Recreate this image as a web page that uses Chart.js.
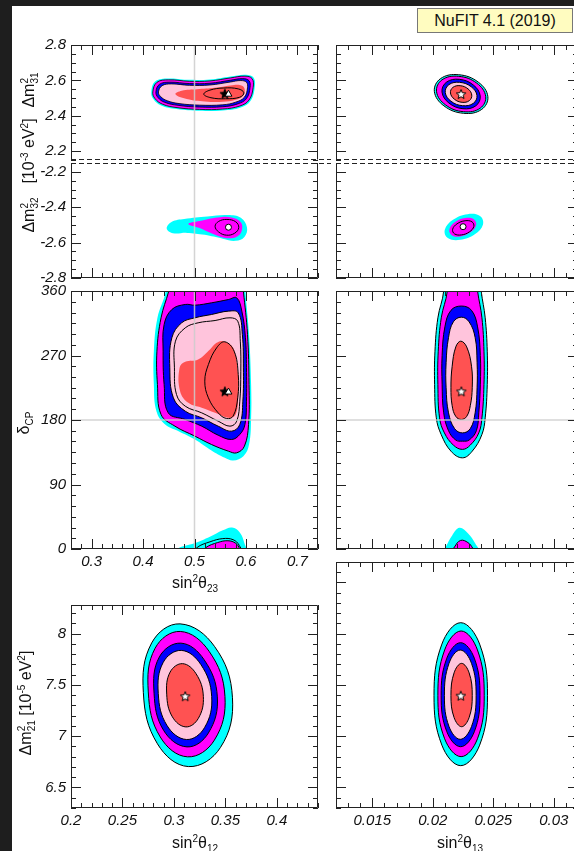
<!DOCTYPE html>
<html>
<head>
<meta charset="utf-8">
<script src="https://cdn.jsdelivr.net/npm/chart.js@4.4.0/dist/chart.umd.min.js"></script>
<style>
html, body { margin: 0; padding: 0; overflow: hidden; }
body { width: 574px; height: 851px; position: relative; background: #fff; font-family: "Liberation Sans", Arial, sans-serif; color: #111; }
canvas { position: absolute; }
.dark { position: absolute; background: #1e1e1e; }
.t { position: absolute; white-space: nowrap; font-size: 16px; transform: translate(-50%, -50%); }
.t.r { transform: translate(-50%, -50%) rotate(-90deg); }
.st { display: inline-block; vertical-align: -4px; font-size: 10px; line-height: 10px; text-align: left; }
.st span { display: block; }
sup, sub { font-size: 10px; line-height: 0; }
#nufit { position: absolute; left: 417px; top: 8px; width: 154px; height: 23px; background: #fffcc0; border: 1px solid #777; font-size: 16px; line-height: 23px; text-align: center; }
</style>
</head>
<body>
<div class="dark" style="left:0;top:0;width:12px;height:851px"></div>
<div class="dark" style="left:0;top:0;width:574px;height:6px"></div>
<div id="nufit">NuFIT 4.1 (2019)</div>

<canvas id="pA"></canvas>
<canvas id="pB"></canvas>
<canvas id="pC"></canvas>
<canvas id="pD"></canvas>
<canvas id="pE"></canvas>
<canvas id="pF"></canvas>
<canvas id="pG"></canvas>
<canvas id="pH"></canvas>

<div class="t r" style="left:30px;top:90px">&Delta;m<span class="st"><span>2</span><span>31</span></span></div>
<div class="t r" style="left:29px;top:151px">[10<sup>-3</sup> eV<sup>2</sup>]</div>
<div class="t r" style="left:30px;top:215px">&Delta;m<span class="st"><span>2</span><span>32</span></span></div>
<div class="t r" style="left:24px;top:423px">&delta;<sub>CP</sub></div>
<div class="t r" style="left:27px;top:703px">&Delta;m<span class="st"><span>2</span><span>21</span></span> [10<sup>-5</sup> eV<sup>2</sup>]</div>
<div class="t" style="left:195px;top:583px">sin<sup>2</sup>&theta;<sub>23</sub></div>
<div class="t" style="left:195px;top:843px">sin<sup>2</sup>&theta;<sub>12</sub></div>
<div class="t" style="left:460px;top:843px">sin<sup>2</sup>&theta;<sub>13</sub></div>

<script>
// tick labels
var s23Ticks = [0.3, 0.4, 0.5, 0.6, 0.7];
var s13Ticks = [0.015, 0.02, 0.025, 0.03];
var s12Ticks = [0.2, 0.25, 0.3, 0.35, 0.4];
var dm31Ticks = [2.2, 2.4, 2.6, 2.8];
var dm32Ticks = [-2.8, -2.6, -2.4, -2.2];
var cpTicks = [0, 90, 180, 270, 360];
var dm21Ticks = [6.5, 7, 7.5, 8];
var dm21TicksRight = [6.5, 7, 7.5, 8, 8.5];

// best fit points
var t23m31Star = [0.559, 2.525], t23m31Tri = [0.566, 2.522];
var t23m32Dot = [0.566, -2.513];
var t23cpStar = [0.559, 220], t23cpTri = [0.566, 219];
var t13m31Star = [0.02234, 2.523];
var t13m32Dot = [0.0225, -2.510];
var t13cpStar = [0.02236, 220];
var t12m21Star = [0.311, 7.39];
var t13m21Star = [0.02231, 7.396];

// sin^2 theta23 vs dm31
var t23m31Cyan = [[0.416,2.535],[0.424,2.595],[0.450,2.611],[0.490,2.603],[0.530,2.605],[0.570,2.622],[0.600,2.632],[0.615,2.615],[0.617,2.560],[0.609,2.485],[0.590,2.447],[0.555,2.430],[0.510,2.428],[0.465,2.438],[0.435,2.458],[0.420,2.495]];
var t23m31Magenta = [[0.419,2.535],[0.427,2.589],[0.450,2.603],[0.490,2.595],[0.530,2.597],[0.570,2.614],[0.598,2.624],[0.612,2.610],[0.614,2.560],[0.606,2.489],[0.588,2.455],[0.555,2.438],[0.510,2.436],[0.466,2.446],[0.438,2.465],[0.423,2.498]];
var t23m31Blue = [[0.425,2.535],[0.432,2.578],[0.452,2.590],[0.490,2.582],[0.530,2.584],[0.570,2.601],[0.594,2.610],[0.606,2.598],[0.608,2.560],[0.601,2.497],[0.584,2.467],[0.555,2.451],[0.510,2.449],[0.468,2.459],[0.442,2.476],[0.429,2.503]];
var t23m31Pink = [[0.430,2.535],[0.437,2.570],[0.455,2.580],[0.490,2.572],[0.530,2.574],[0.570,2.591],[0.590,2.599],[0.601,2.589],[0.603,2.558],[0.597,2.505],[0.580,2.477],[0.555,2.462],[0.510,2.460],[0.470,2.469],[0.447,2.485],[0.434,2.509]];
var t23m31Red = [[0.463,2.522],[0.475,2.542],[0.505,2.550],[0.540,2.558],[0.570,2.571],[0.588,2.574],[0.597,2.556],[0.595,2.515],[0.580,2.490],[0.555,2.479],[0.520,2.481],[0.485,2.495]];
var t23m31Line = [[0.518,2.522],[0.530,2.545],[0.557,2.557],[0.585,2.552],[0.596,2.530],[0.588,2.505],[0.560,2.496],[0.532,2.502]];

// sin^2 theta23 vs dm32
var t23m32Cyan = [[0.446,-2.520],[0.456,-2.482],[0.480,-2.466],[0.525,-2.452],[0.565,-2.444],[0.590,-2.460],[0.602,-2.515],[0.597,-2.568],[0.580,-2.590],[0.555,-2.578],[0.520,-2.556],[0.485,-2.545],[0.458,-2.547]];
var t23m32Magenta = [[0.488,-2.495],[0.510,-2.478],[0.545,-2.458],[0.572,-2.458],[0.590,-2.485],[0.592,-2.530],[0.583,-2.565],[0.562,-2.575],[0.535,-2.550],[0.510,-2.518]];
var t23m32Line = [[0.540,-2.508],[0.547,-2.480],[0.563,-2.469],[0.580,-2.482],[0.586,-2.515],[0.578,-2.547],[0.562,-2.558],[0.547,-2.540]];

// sin^2 theta23 vs deltaCP
var t23cpCyan = [[0.520,397],[0.443,383],[0.444,359.8],[0.428,322.6],[0.421,276],[0.421,229.5],[0.426,192.3],[0.443,173.7],[0.469,164.4],[0.501,152.8],[0.533,137.4],[0.559,127.2],[0.575,123.5],[0.595,129.5],[0.606,145.8],[0.610,183],[0.610,229.5],[0.606,299.3],[0.599,359.8],[0.598,383]];
var t23cpMagenta = [[0.520,388],[0.456,378],[0.450,359.8],[0.435,322.6],[0.427,276],[0.428,229.5],[0.435,187.7],[0.462,171.4],[0.501,157.4],[0.533,145.8],[0.566,136.5],[0.582,134.2],[0.597,143.5],[0.605,173.7],[0.606,229.5],[0.603,299.3],[0.595,359.8],[0.592,378]];
var t23cpBlue = [[0.441,313.3],[0.456,334.2],[0.482,341.2],[0.501,340.2],[0.533,343.5],[0.566,348.1],[0.582,350.5],[0.592,331.9],[0.599,294.7],[0.601,252.8],[0.601,206.3],[0.598,173.7],[0.588,159.8],[0.572,152.8],[0.546,158.8],[0.514,171.4],[0.482,180.7],[0.449,190],[0.441,229.5],[0.439,276]];
var t23cpPink = [[0.456,294.7],[0.475,315.6],[0.501,322.6],[0.533,327.2],[0.566,331.9],[0.585,329.5],[0.593,299.3],[0.595,252.8],[0.594,206.3],[0.588,173.7],[0.572,164.4],[0.546,171.4],[0.514,183],[0.482,192.3],[0.459,210.9],[0.452,252.8]];
var t23cpPinkLine = [[0.463,290],[0.482,308.6],[0.507,315.6],[0.540,318.8],[0.569,322.6],[0.584,317.9],[0.589,290],[0.590,248.1],[0.588,206.3],[0.582,178.4],[0.569,171.4],[0.546,178.4],[0.514,190],[0.482,199.3],[0.465,215.6],[0.461,252.8]];
var t23cpRed = [[0.556,290],[0.575,280.7],[0.584,248.1],[0.585,215.6],[0.580,187.7],[0.566,183],[0.540,190],[0.514,197],[0.488,204],[0.472,220.2],[0.471,252.8],[0.482,261.2],[0.507,264.4],[0.530,278.4],[0.543,287.7]];
var t23cpRedLine = [[0.559,289.1],[0.577,276],[0.585,243.5],[0.584,210.9],[0.575,185.4],[0.562,182.1],[0.546,190],[0.527,210.9],[0.520,234.2],[0.527,257.4],[0.543,280.7]];
var t23cpCyanCap = [[0.455,-8],[0.468,1],[0.500,8],[0.530,17],[0.555,26],[0.573,30],[0.588,23],[0.597,8],[0.601,-8]];
var t23cpLineCap = [[0.498,-8],[0.505,2],[0.530,10],[0.555,14.5],[0.575,13],[0.587,5],[0.592,-8]];
var t23cpMagentaCap = [[0.510,-8],[0.522,2],[0.545,9],[0.565,11.5],[0.580,8],[0.588,0],[0.590,-8]];

// sin^2 theta13 vs dm31
var t13m31Cyan = [[0.02455,2.509],[0.02376,2.590],[0.02214,2.632],[0.02064,2.610],[0.02013,2.537],[0.02092,2.456],[0.02254,2.414],[0.02404,2.436]];
var t13m31Magenta = [[0.02437,2.510],[0.02363,2.5845],[0.02214,2.623],[0.02076,2.603],[0.02031,2.536],[0.02105,2.4615],[0.02254,2.423],[0.02392,2.443]];
var t13m31Blue = [[0.02392,2.512],[0.02335,2.574],[0.02219,2.606],[0.02112,2.5895],[0.02076,2.534],[0.02133,2.472],[0.02249,2.440],[0.02356,2.4565]];
var t13m31Pink = [[0.02365,2.5145],[0.02318,2.5637],[0.02222,2.589],[0.02133,2.5757],[0.02103,2.5315],[0.02150,2.4823],[0.02246,2.457],[0.02335,2.4703]];
var t13m31Red = [[0.02322,2.517],[0.02291,2.552],[0.02226,2.570],[0.02166,2.5604],[0.02146,2.529],[0.02178,2.494],[0.02242,2.476],[0.02302,2.4856]];

// sin^2 theta13 vs dm32
var t13m32Cyan = [[0.02415,-2.497],[0.02390,-2.450],[0.02287,-2.4395],[0.02167,-2.471],[0.02099,-2.527],[0.02124,-2.574],[0.02227,-2.5845],[0.02347,-2.553]];
var t13m32Magenta = [[0.02358,-2.502],[0.02339,-2.468],[0.02268,-2.461],[0.02184,-2.484],[0.02137,-2.524],[0.02156,-2.558],[0.02228,-2.565],[0.02311,-2.542]];
var t13m32Line = [[0.02339,-2.5085],[0.02324,-2.4825],[0.02267,-2.4765],[0.02200,-2.4939],[0.02164,-2.5245],[0.02179,-2.5505],[0.02237,-2.5565],[0.02303,-2.5391]];

// sin^2 theta13 vs deltaCP
var t13cpCyan = [[0.02236,395],[0.0208,385],[0.0209,360],[0.02042,322.6],[0.02018,276],[0.02015,229.5],[0.02029,183],[0.02069,159.8],[0.0215,136.5],[0.02245,127.2],[0.02326,136.5],[0.02406,159.8],[0.02433,183],[0.0245,229.5],[0.0245,276],[0.02433,322.6],[0.0240,360],[0.0239,385]];
var t13cpMagenta = [[0.02236,388],[0.0211,380],[0.0212,360],[0.0207,322.6],[0.02045,276],[0.02042,229.5],[0.02056,183],[0.02096,162],[0.0217,145],[0.02245,139],[0.0231,145],[0.0238,162],[0.02406,183],[0.02423,229.5],[0.02423,276],[0.02406,322.6],[0.0237,360],[0.0236,380]];
var t13cpBlue = [[0.02236,339],[0.0215,333],[0.0210,310],[0.02077,270],[0.02077,230],[0.0209,190],[0.0213,165],[0.0219,152],[0.02245,150.5],[0.0230,152],[0.0236,165],[0.0238,190],[0.02393,230],[0.02393,270],[0.0237,310],[0.0232,333]];
var t13cpPink = [[0.02236,323.5],[0.0217,317],[0.0213,295],[0.0211,260],[0.0211,225],[0.0213,190],[0.0218,168],[0.02245,162],[0.0231,168],[0.0235,190],[0.02366,225],[0.02366,260],[0.0235,295],[0.0230,317]];
var t13cpRed = [[0.02231,290],[0.0219,282],[0.0216,255],[0.0215,225],[0.0216,200],[0.0219,185],[0.02236,180.7],[0.0228,185],[0.0231,200],[0.02326,225],[0.0232,255],[0.0228,282]];
var t13cpCyanCap = [[0.0207,-8],[0.0211,4],[0.0216,19],[0.0222,29.5],[0.0229,22],[0.0235,8],[0.0239,-8]];
var t13cpMagentaCap = [[0.0215,-8],[0.0218,3],[0.0223,12],[0.0229,9],[0.0233,1],[0.0235,-8]];

// sin^2 theta12 vs dm21
var t12m21Cyan = [[0.3569,7.375],[0.3396,7.874],[0.3060,8.096],[0.2784,7.910],[0.2703,7.425],[0.2840,6.926],[0.3140,6.704],[0.3452,6.890]];
var t12m21Magenta = [[0.3496,7.388],[0.3343,7.827],[0.3062,8.022],[0.2817,7.858],[0.2751,7.432],[0.2867,6.993],[0.3132,6.799],[0.3393,6.962]];
var t12m21Blue = [[0.3422,7.384],[0.3293,7.747],[0.3067,7.908],[0.2858,7.7725],[0.2807,7.420],[0.2900,7.057],[0.3127,6.896],[0.3335,7.0315]];
var t12m21Pink = [[0.3367,7.3875],[0.3262,7.699],[0.3072,7.837],[0.2896,7.7203],[0.2848,7.4175],[0.2932,7.1059],[0.3122,6.968],[0.3298,7.0847]];
var t12m21Red = [[0.3286,7.3885],[0.3215,7.6098],[0.3084,7.708],[0.2963,7.6254],[0.2930,7.4105],[0.2985,7.1892],[0.3116,7.091],[0.3237,7.1736]];

// sin^2 theta13 vs dm21
var t13m21Cyan = [[0.02452,7.396],[0.02387,7.899],[0.02231,8.108],[0.02075,7.899],[0.02010,7.396],[0.02075,6.913],[0.02231,6.713],[0.02387,6.913]];
var t13m21Magenta = [[0.02425,7.396],[0.02369,7.842],[0.02234,8.027],[0.02098,7.842],[0.02042,7.396],[0.02098,6.975],[0.02234,6.801],[0.02369,6.975]];
var t13m21Blue = [[0.02390,7.396],[0.02343,7.762],[0.02230,7.913],[0.02116,7.762],[0.02069,7.396],[0.02116,7.044],[0.02230,6.898],[0.02343,7.044]];
var t13m21Pink = [[0.02358,7.396],[0.02320,7.711],[0.02227,7.841],[0.02134,7.711],[0.02096,7.396],[0.02134,7.095],[0.02227,6.970],[0.02320,7.095]];
var t13m21Red = [[0.02326,7.396],[0.02300,7.619],[0.02238,7.711],[0.02176,7.619],[0.02150,7.396],[0.02176,7.182],[0.02238,7.093],[0.02300,7.182]];

var CYAN = '#00ffff', MAGENTA = '#ff00ff', BLUE = '#0000ff', PINK = '#ffc4dc', RED = '#ff5252';
var TICK_FONT = { family: '"Liberation Sans", Arial, sans-serif', size: 15, style: 'italic' };
var PAD = 16;

function toXY(points) {
	return points.map(function (p) { return { x: p[0], y: p[1] }; });
}

// filled closed contour
function region(points, color, edge) {
	return {
		data: toXY(points),
		backgroundColor: color,
		borderColor: '#000',
		borderWidth: edge ? edge : 0,
		fill: 'shape',
		tension: 0.4,
		spanGaps: true,
		pointRadius: 0,
		closed: true
	};
}

// black contour line only
function contourLine(points) {
	return {
		data: toXY(points),
		borderColor: '#000',
		borderWidth: 1,
		fill: false,
		tension: 0.4,
		spanGaps: true,
		pointRadius: 0,
		closed: true
	};
}

function makeStar(fill) {
	var c = document.createElement('canvas');
	c.width = 12;
	c.height = 12;
	var g = c.getContext('2d');
	g.beginPath();
	for (var k = 0; k < 10; k++) {
		var r = k % 2 ? 2.2 : 5;
		var ang = -Math.PI / 2 + k * Math.PI / 5;
		g.lineTo(6 + r * Math.cos(ang), 6.5 + r * Math.sin(ang));
	}
	g.closePath();
	g.fillStyle = fill;
	g.fill();
	g.strokeStyle = '#000';
	g.lineWidth = 1;
	g.stroke();
	return c;
}
var whiteStar = makeStar('#fff');
var blackStar = makeStar('#000');

function marker(p, style, radius) {
	return {
		data: toXY([p]),
		showLine: false,
		pointStyle: style,
		pointRadius: radius,
		backgroundColor: '#fff',
		borderColor: '#000',
		borderWidth: 1
	};
}

// make the closed contours wrap round like a radar line
var closeLoops = {
	id: 'closeLoops',
	afterDatasetsUpdate: function (chart) {
		chart.data.datasets.forEach(function (ds, i) {
			var line = chart.getDatasetMeta(i).dataset;
			if (ds.closed && line) {
				line._loop = true;
				line._fullLoop = true;
				delete line._segments;
				delete line._path;
				line._pointsUpdated = false;
			}
		});
	}
};

function tickMarks(ctx, scale, majors, step, a, horizontal, first, second) {
	for (var k = Math.ceil(scale.min / step - 1e-6); k * step <= scale.max + 1e-9; k++) {
		var v = k * step;
		var major = majors.some(function (m) { return Math.abs(m - v) < step * 0.01; });
		var len = major ? 10 : 5;
		var p = Math.round(scale.getPixelForValue(v)) + 0.5;
		if (horizontal) {
			if (first) { ctx.moveTo(p, a.bottom); ctx.lineTo(p, a.bottom - len); }
			if (second) { ctx.moveTo(p, a.top); ctx.lineTo(p, a.top + len); }
		} else {
			if (first) { ctx.moveTo(a.left, p); ctx.lineTo(a.left + len, p); }
			if (second) { ctx.moveTo(a.right, p); ctx.lineTo(a.right - len, p); }
		}
	}
}

// frame, inward ticks, guide lines and the dashed break
var deco = {
	id: 'deco',
	afterDraw: function (chart) {
		var o = chart.options.plugins.deco;
		var ctx = chart.ctx, a = chart.chartArea;
		var xs = chart.scales.x, ys = chart.scales.y;
		ctx.save();
		ctx.strokeStyle = 'rgba(205,205,205,0.85)';
		ctx.lineWidth = 1.5;
		ctx.beginPath();
		if (o.vline != null) {
			var vx = xs.getPixelForValue(o.vline);
			ctx.moveTo(vx, a.top); ctx.lineTo(vx, a.bottom);
		}
		if (o.hline != null) {
			var hy = ys.getPixelForValue(o.hline);
			ctx.moveTo(a.left, hy); ctx.lineTo(a.right, hy);
		}
		ctx.stroke();

		var L = a.left + 0.5, R = a.right - 0.5, T = a.top + 0.5, B = a.bottom - 0.5;
		ctx.strokeStyle = '#222';
		ctx.lineWidth = 1;
		ctx.beginPath();
		ctx.moveTo(L, T); ctx.lineTo(L, B);
		ctx.moveTo(R, T); ctx.lineTo(R, B);
		if (!o.dashTop) { ctx.moveTo(L, T); ctx.lineTo(R, T); }
		if (!o.dashBottom) { ctx.moveTo(L, B); ctx.lineTo(R, B); }
		tickMarks(ctx, xs, o.xMajor, o.xMinor, a, true, !o.dashBottom, !o.dashTop);
		tickMarks(ctx, ys, o.yMajor, o.yMinor, a, false, true, true);
		ctx.stroke();

		ctx.setLineDash([5, 3]);
		ctx.beginPath();
		var xEnd = o.dashToEdge ? chart.width : a.right;
		if (o.dashTop) { ctx.moveTo(a.left, T); ctx.lineTo(xEnd, T); }
		if (o.dashBottom) { ctx.moveTo(a.left, B); ctx.lineTo(xEnd, B); }
		ctx.stroke();
		ctx.restore();
	}
};

function axis(min, max, ticks, showLabels, size, horizontal) {
	return {
		type: 'linear',
		min: min,
		max: max,
		grid: { display: false, drawTicks: false },
		border: { display: false },
		ticks: {
			display: showLabels,
			padding: horizontal ? 4 : 5,
			color: '#111',
			font: TICK_FONT,
			autoSkip: false,
			maxRotation: 0,
			callback: function (v) { return String(v); }
		},
		afterBuildTicks: function (s) {
			s.ticks = ticks.map(function (v) { return { value: v }; });
		},
		afterFit: function (s) {
			if (horizontal) {
				s.height = size;
			} else {
				s.width = size;
			}
		}
	};
}

function makePanel(id, box, xCfg, yCfg, datasets, decoOpts) {
	var yw = box.yw, xh = box.xh;
	var padBottom = xh > 0 ? 0 : PAD;
	var padRight = box.right ? 10 : 13;
	var canvas = document.getElementById(id);
	canvas.width = yw + box.w + padRight;
	canvas.height = PAD + box.h + xh + padBottom;
	canvas.style.left = (box.left - yw) + 'px';
	canvas.style.top = (box.top - PAD) + 'px';
	decoOpts.xMajor = xCfg.ticks;
	decoOpts.xMinor = xCfg.minor;
	decoOpts.yMajor = yCfg.ticks;
	decoOpts.yMinor = yCfg.minor;
	return new Chart(canvas, {
		type: 'line',
		data: { datasets: datasets },
		options: {
			responsive: false,
			animation: false,
			events: [],
			layout: { padding: { top: PAD, right: padRight, bottom: padBottom, left: 0 } },
			elements: { line: { capBezierPoints: false } },
			scales: {
				x: axis(xCfg.min, xCfg.max, xCfg.ticks, xh > 0, xh, true),
				y: axis(yCfg.min, yCfg.max, yCfg.ticks, yw > 0, yw, false)
			},
			plugins: {
				legend: { display: false },
				tooltip: { enabled: false },
				deco: decoOpts
			}
		},
		plugins: [closeLoops, deco]
	});
}

var xS23 = { min: 0.26, max: 0.74, ticks: s23Ticks, minor: 0.02 };
var xS13 = { min: 0.012, max: 0.032, ticks: s13Ticks, minor: 0.001 };
var xS12 = { min: 0.2, max: 0.44, ticks: s12Ticks, minor: 0.01 };
var yM31 = { min: 2.15, max: 2.8, ticks: dm31Ticks, minor: 0.05 };
var yM32 = { min: -2.8, max: -2.15, ticks: dm32Ticks, minor: 0.05 };
var yCP = { min: 0, max: 360, ticks: cpTicks, minor: 15 };
var yM21 = { min: 6.3, max: 8.28, ticks: dm21Ticks, minor: 0.1 };
var yM21Right = { min: 6.3, max: 8.7, ticks: dm21TicksRight, minor: 0.1 };

var LEFT = 71, RIGHT = 331, W = 247;

makePanel('pA', { left: LEFT, top: 45, w: W, h: 115, yw: 55, xh: 0 }, xS23, yM31, [
	marker(t23m31Tri, 'triangle', 4),
	marker(t23m31Star, blackStar, 4),
	contourLine(t23m31Line),
	region(t23m31Red, RED),
	region(t23m31Pink, PINK, 0.8),
	region(t23m31Blue, BLUE, 0.8),
	region(t23m31Magenta, MAGENTA, 0.8),
	region(t23m31Cyan, CYAN)
], { vline: 0.5, dashBottom: true, dashToEdge: true });

makePanel('pB', { left: LEFT, top: 163, w: W, h: 115, yw: 55, xh: 0 }, xS23, yM32, [
	marker(t23m32Dot, 'circle', 3),
	contourLine(t23m32Line),
	region(t23m32Magenta, MAGENTA),
	region(t23m32Cyan, CYAN)
], { vline: 0.5, dashTop: true, dashToEdge: true });

makePanel('pC', { left: LEFT, top: 291, w: W, h: 258, yw: 55, xh: 25 }, xS23, yCP, [
	marker(t23cpTri, 'triangle', 4),
	marker(t23cpStar, blackStar, 4),
	contourLine(t23cpRedLine),
	contourLine(t23cpPinkLine),
	region(t23cpRed, RED),
	region(t23cpPink, PINK, 1),
	region(t23cpBlue, BLUE, 1),
	region(t23cpMagenta, MAGENTA, 1),
	region(t23cpCyan, CYAN),
	region(t23cpMagentaCap, MAGENTA, 1),
	contourLine(t23cpLineCap),
	region(t23cpCyanCap, CYAN)
], { vline: 0.5, hline: 180 });

makePanel('pD', { left: RIGHT, top: 45, w: W, h: 115, yw: 0, xh: 0, right: true }, xS13, yM31, [
	marker(t13m31Star, whiteStar, 4),
	region(t13m31Red, RED, 1),
	region(t13m31Pink, PINK, 1),
	region(t13m31Blue, BLUE, 1),
	region(t13m31Magenta, MAGENTA, 1),
	region(t13m31Cyan, CYAN, 1)
], { dashBottom: true });

makePanel('pE', { left: RIGHT, top: 163, w: W, h: 115, yw: 0, xh: 0, right: true }, xS13, yM32, [
	marker(t13m32Dot, 'circle', 3),
	contourLine(t13m32Line),
	region(t13m32Magenta, MAGENTA),
	region(t13m32Cyan, CYAN)
], { dashTop: true });

makePanel('pF', { left: RIGHT, top: 291, w: W, h: 258, yw: 0, xh: 0, right: true }, xS13, yCP, [
	marker(t13cpStar, whiteStar, 4),
	region(t13cpRed, RED, 1),
	region(t13cpPink, PINK, 1),
	region(t13cpBlue, BLUE, 1),
	region(t13cpMagenta, MAGENTA, 1),
	region(t13cpCyan, CYAN, 1),
	region(t13cpMagentaCap, MAGENTA, 1),
	region(t13cpCyanCap, CYAN)
], { hline: 180 });

makePanel('pG', { left: LEFT, top: 605, w: W, h: 203, yw: 55, xh: 25 }, xS12, yM21, [
	marker(t12m21Star, whiteStar, 4),
	region(t12m21Red, RED, 1),
	region(t12m21Pink, PINK, 1),
	region(t12m21Blue, BLUE, 1),
	region(t12m21Magenta, MAGENTA, 1),
	region(t12m21Cyan, CYAN, 1)
], {});

makePanel('pH', { left: RIGHT, top: 562, w: W, h: 246, yw: 0, xh: 25, right: true }, xS13, yM21Right, [
	marker(t13m21Star, whiteStar, 4),
	region(t13m21Red, RED, 1),
	region(t13m21Pink, PINK, 1),
	region(t13m21Blue, BLUE, 1),
	region(t13m21Magenta, MAGENTA, 1),
	region(t13m21Cyan, CYAN, 1)
], {});
</script>
</body>
</html>
